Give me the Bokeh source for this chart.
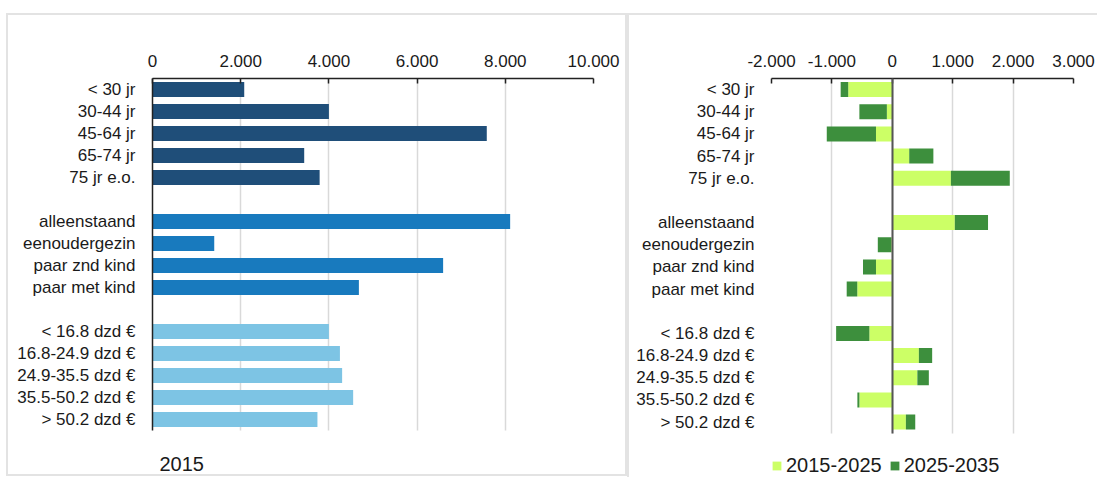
import numpy as np
from bokeh.plotting import figure
from bokeh.models import (FactorRange, Range1d, Legend, LegendItem, Label, Grid,
                          FixedTicker, ColumnDataSource, Spacer)
from bokeh.layouts import row, column
from bokeh.embed import file_html
from bokeh.resources import INLINE

FONT = "Liberation Sans"
TXT = "#1a1a1a"

# ---------------- data ----------------
age_cats = ["< 30 jr", "30-44 jr", "45-64 jr", "65-74 jr", "75 jr e.o."]
hh_cats = ["alleenstaand", "eenoudergezin", "paar znd kind", "paar met kind"]
inc_cats = ["< 16.8 dzd €", "16.8-24.9 dzd €", "24.9-35.5 dzd €", "35.5-50.2 dzd €", "> 50.2 dzd €"]

# left panel: level in 2015
age_2015 = [2080, 4000, 7580, 3440, 3790]
hh_2015 = [8110, 1400, 6590, 4680]
inc_2015 = [4000, 4250, 4300, 4550, 3740]

# right panel: change 2015-2025 and 2025-2035
age_d1 = [-730, -90, -270, 280, 970]
age_d2 = [-125, -455, -815, 400, 975]
hh_d1 = [1035, -15, -270, -580]
hh_d2 = [550, -225, -215, -175]
inc_d1 = [-380, 440, 415, -545, 225]
inc_d2 = [-550, 220, 190, -33, 155]

series_labels = ["2015-2025", "2025-2035"]
left_title = "2015"

x1_ticks = [0, 2000, 4000, 6000, 8000, 10000]
x1_labels = ["0", "2.000", "4.000", "6.000", "8.000", "10.000"]
x2_ticks = [-2000, -1000, 0, 1000, 2000, 3000]
x2_labels = ["-2.000", "-1.000", "0", "1.000", "2.000", "3.000"]

# blank slots: two gaps between groups, two at the bottom (room for title / legend)
gap1, gap2, foot1, foot2 = " ", "  ", "   ", "    "
factors = age_cats + [gap1] + hh_cats + [gap2] + inc_cats + [foot1, foot2]
n_foot = 2
n_slots = len(factors)
chart_bounds = (n_foot, n_slots)   # synthetic y extent of the bar area

C_AGE = "#1f4e79"
C_HH = "#187abe"
C_INC = "#7dc4e4"
C_LIGHT = "#ccff66"
C_DARK = "#3d8f3d"
GRID = "#d9d9d9"
FRAME = "#e3e3e3"


def style(p, ticks, labels, y_line):
    xa = p.xaxis[0]
    xa.ticker = FixedTicker(ticks=ticks)
    xa.major_label_overrides = {t: l for t, l in zip(ticks, labels)}
    xa.axis_line_color = "#222222"
    xa.axis_line_width = 1.5
    xa.major_tick_line_color = "#222222"
    xa.major_tick_line_width = 1.5
    xa.major_tick_in = 5
    xa.major_tick_out = 0
    xa.minor_tick_line_color = None
    xa.major_label_text_font = FONT
    xa.major_label_text_font_size = "17px"
    xa.major_label_text_color = TXT
    xa.major_label_standoff = 12
    ya = p.yaxis[0]
    ya.bounds = chart_bounds
    ya.axis_line_color = "#222222" if y_line else None
    ya.axis_line_width = 1.5
    ya.major_tick_line_color = None
    ya.minor_tick_line_color = None
    ya.major_label_text_font = FONT
    ya.major_label_text_font_size = "17px"
    ya.major_label_text_color = TXT
    ya.major_label_standoff = 11
    p.xgrid.grid_line_color = GRID
    p.xgrid.grid_line_width = 1.5
    p.xgrid.cross_bounds = chart_bounds
    p.ygrid.visible = False
    p.outline_line_color = None
    p.background_fill_color = "white"
    p.border_fill_color = "white"


# ---------------- left panel ----------------
p1 = figure(width=617, height=459, x_range=Range1d(0, 10000),
            y_range=FactorRange(factors=factors[::-1]),
            x_axis_location="above", output_backend="svg", toolbar_location=None,
            min_border_left=144, min_border_right=32, min_border_top=63, min_border_bottom=0,
            styles={"outline": "2px solid " + FRAME, "outline-offset": "0px"})
style(p1, x1_ticks, x1_labels, True)

p1.hbar(y=age_cats, left=0, right=age_2015, height=0.68, fill_color=C_AGE, line_color=None)
p1.hbar(y=hh_cats, left=0, right=hh_2015, height=0.68, fill_color=C_HH, line_color=None)
p1.hbar(y=inc_cats, left=0, right=inc_2015, height=0.68, fill_color=C_INC, line_color=None)
p1.add_layout(Label(x=7, y=11, x_units="screen", y_units="screen", text=left_title,
                    text_font=FONT, text_font_size="20px", text_color=TXT,
                    text_baseline="middle", text_align="left"))

# ---------------- right panel ----------------
cats = age_cats + hh_cats + inc_cats
d1 = np.array(age_d1 + hh_d1 + inc_d1, dtype=float)
d2 = np.array(age_d2 + hh_d2 + inc_d2, dtype=float)
src = ColumnDataSource(dict(cat=cats, d1=d1, end2=d1 + d2))

p2 = figure(width=468, height=462, x_range=Range1d(-2000, 3000),
            y_range=FactorRange(factors=factors[::-1]),
            x_axis_location="above", output_backend="svg", toolbar_location=None,
            min_border_left=142, min_border_right=24, min_border_top=63, min_border_bottom=0,
            styles={"outline": "2px solid " + FRAME, "outline-offset": "0px"})
style(p2, x2_ticks, x2_labels, False)

r_light = p2.hbar(y="cat", left=0, right="d1", height=0.68, source=src,
                  fill_color=C_LIGHT, line_color=None)
r_dark = p2.hbar(y="cat", left="d1", right="end2", height=0.68, source=src,
                 fill_color=C_DARK, line_color=None)
zero_line = Grid(dimension=0, ticker=FixedTicker(ticks=[0]), grid_line_color="#555555",
                 grid_line_width=2, cross_bounds=chart_bounds, level="annotation")
p2.add_layout(zero_line)

legend = Legend(items=[LegendItem(label=series_labels[0], renderers=[r_light]),
                       LegendItem(label=series_labels[1], renderers=[r_dark])],
                orientation="horizontal", location=(0, 0), margin=0, padding=0,
                spacing=7, glyph_width=11, glyph_height=11, label_standoff=4,
                label_text_font=FONT, label_text_font_size="20px", label_text_color=TXT,
                border_line_color=None, background_fill_alpha=0)
p2.add_layout(legend)

layout = column(Spacer(height=15), row(Spacer(width=8), p1, Spacer(width=4), p2))

open("out.html", "w").write(file_html(layout, INLINE))
